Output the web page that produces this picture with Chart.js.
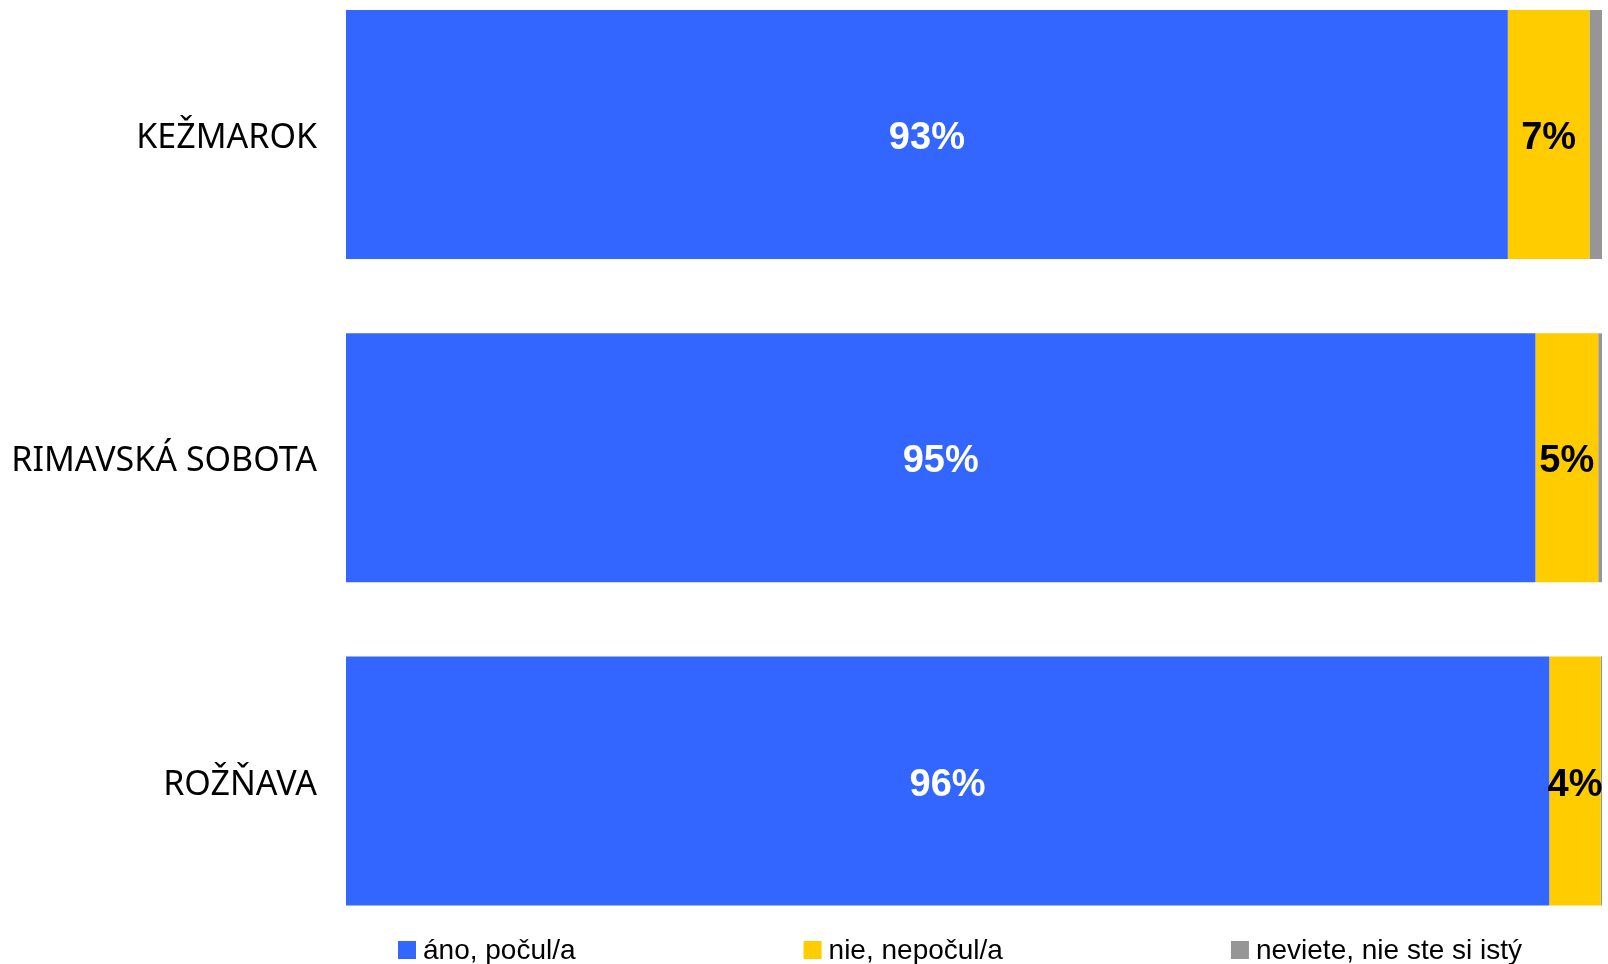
<!DOCTYPE html>
<html>
<head>
<meta charset="utf-8">
<script src="https://cdn.jsdelivr.net/npm/chart.js@4/dist/chart.umd.min.js"></script>
<style>
  html, body { margin: 0; padding: 0; background: #fff; }
  #wrap { width: 1608px; height: 964px; }
</style>
</head>
<body>
<div id="wrap"><canvas id="c" width="1608" height="964"></canvas></div>
<script>
// Districts shown as rows, top to bottom
const categories = ['KEŽMAROK', 'RIMAVSKÁ SOBOTA', 'ROŽŇAVA'];
// Answer options
const seriesNames = ['áno, počul/a', 'nie, nepočul/a', 'neviete, nie ste si istý'];
// Shares in percent per district
const heardYes = [92.5, 94.7, 95.8];
const heardNo = [6.5, 5.0, 4.1];
const notSure = [1.0, 0.3, 0.1];
const seriesColors = ['#3366FF', '#FFCC00', '#969696'];
const labelColors = ['#FFFFFF', '#000000', null];

const toPoints = arr => arr.map((v, i) => ({ x: v, y: i }));

// Percentage labels centred inside each segment
const segmentLabels = {
  id: 'segmentLabels',
  afterDatasetsDraw(chart) {
    const ctx = chart.ctx;
    ctx.save();
    ctx.font = 'bold 38px "Liberation Sans", Arial, sans-serif';
    ctx.textAlign = 'center';
    ctx.textBaseline = 'middle';
    chart.data.datasets.forEach((ds, di) => {
      const color = labelColors[di];
      if (!color) return;
      chart.getDatasetMeta(di).data.forEach((bar, i) => {
        const p = bar.getProps(['x', 'y', 'base'], true);
        ctx.fillStyle = color;
        ctx.fillText(Math.round(ds.data[i].x) + '%', (p.x + p.base) / 2, p.y + 4);
      });
    });
    ctx.restore();
  }
};

// Legend row under the bars
const bottomLegend = {
  id: 'bottomLegend',
  afterDraw(chart) {
    const ctx = chart.ctx;
    const box = 18, gapText = 7, gapItem = 228;
    const yMid = 950;
    ctx.save();
    ctx.font = '28px "Liberation Sans", Arial, sans-serif';
    ctx.textBaseline = 'middle';
    ctx.textAlign = 'left';
    let x = chart.chartArea.left + 52;
    chart.data.datasets.forEach(ds => {
      ctx.fillStyle = ds.backgroundColor;
      ctx.fillRect(x, yMid - box / 2, box, box);
      ctx.fillStyle = '#000';
      const tx = x + box + gapText;
      ctx.fillText(ds.label, tx, yMid + 1);
      x = tx + ctx.measureText(ds.label).width + gapItem;
    });
    ctx.restore();
  }
};

const valueSets = [heardYes, heardNo, notSure];

new Chart(document.getElementById('c'), {
  type: 'bar',
  data: {
    datasets: seriesNames.map((name, i) => ({
      label: name,
      data: toPoints(valueSets[i]),
      backgroundColor: seriesColors[i],
      borderWidth: 0,
      barPercentage: 0.77,
      categoryPercentage: 1.0
    }))
  },
  options: {
    indexAxis: 'y',
    responsive: false,
    animation: false,
    layout: { padding: { top: 0, right: 6, bottom: 54, left: 0 } },
    plugins: {
      legend: { display: false },
      tooltip: { enabled: false }
    },
    scales: {
      x: {
        type: 'linear',
        stacked: true,
        min: 0,
        max: 100,
        display: false
      },
      y: {
        type: 'linear',
        stacked: true,
        reverse: true,
        offset: false,
        min: -0.416,
        max: 2.399,
        grid: { display: false, drawTicks: false },
        border: { display: false },
        afterBuildTicks(scale) {
          scale.ticks = categories.map((c, i) => ({ value: i }));
        },
        afterFit(scale) {
          scale.width = 346;
          scale.paddingTop = 0;
          scale.paddingBottom = 0;
        },
        ticks: {
          padding: 29,
          labelOffset: 4,
          color: '#000',
          font: { family: '"Noto Sans", "Open Sans", sans-serif', size: 34 },
          callback: v => categories[v]
        }
      }
    }
  },
  plugins: [segmentLabels, bottomLegend]
});
</script>
</body>
</html>
